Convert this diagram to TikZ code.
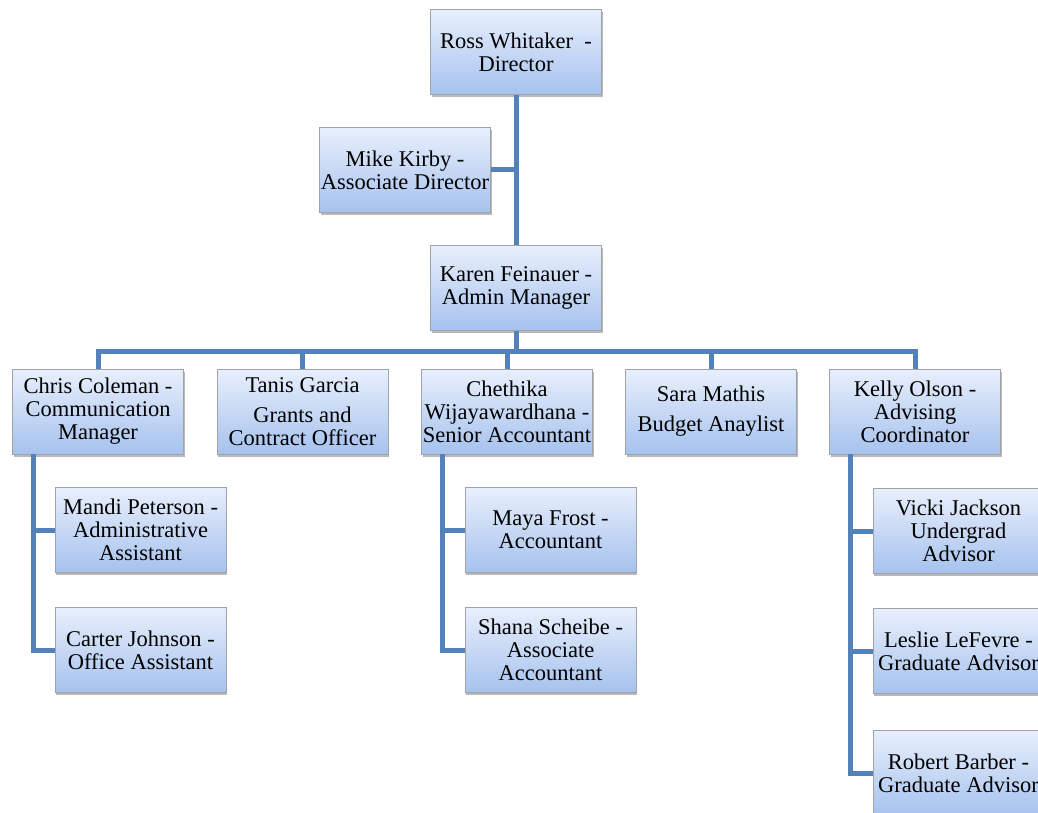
\documentclass[tikz,border=0pt]{standalone}
\usepackage{fontspec}
\setmainfont{Liberation Serif}
\usepackage{tikz}
\usetikzlibrary{shadows}
\definecolor{linkblue}{HTML}{5282B8}
\definecolor{boxtop}{HTML}{E8EFFC}
\definecolor{boxbot}{HTML}{A6C2EE}
\definecolor{boxline}{HTML}{9FA3A8}
\begin{document}
\begin{tikzpicture}[x=1pt,y=-1pt,
    person/.style={draw=boxline,line width=0.8pt,top color=boxtop,bottom color=boxbot,
      minimum width=171pt,minimum height=85pt,inner sep=0pt,align=center,
      font=\fontsize{22.5}{23}\selectfont,
      drop shadow={shadow xshift=1pt,shadow yshift=-2.5pt,fill=black!50,opacity=.55}},
    link/.style={draw=linkblue,line width=5pt}]
    \useasboundingbox (0,0) rectangle (1038,813);
    \clip (0,0) rectangle (1038,813);
    \node[person] (ross) at (516,52) {Ross Whitaker\ \ -\\Director};
    \node[person] (kirby) at (405,170) {Mike Kirby -\\Associate Director};
    \node[person] (karen) at (516,288) {Karen Feinauer -\\Admin Manager};
    \node[person] (chris) at (98,411.5) {Chris Coleman -\\Communication\\Manager};
    \node[person] (tanis) at (302.5,411.5) {Tanis Garcia\\[7pt]Grants and\\Contract Officer};
    \node[person] (chethika) at (507,411.5) {Chethika\\Wijayawardhana -\\Senior Accountant};
    \node[person] (sara) at (711,411.5) {Sara Mathis\\[7pt]Budget Anaylist};
    \node[person] (kelly) at (915,411.5) {Kelly Olson -\\Advising\\Coordinator};
    \node[person] (mandi) at (140.5,530) {Mandi Peterson -\\Administrative\\Assistant};
    \node[person] (carter) at (140.5,650) {Carter Johnson -\\Office Assistant};
    \node[person] (maya) at (550.5,530) {Maya Frost -\\Accountant};
    \node[person] (shana) at (550.5,650) {Shana Scheibe -\\Associate\\Accountant};
    \node[person] (vicki) at (958.5,531) {Vicki Jackson\\Undergrad\\Advisor};
    \node[person] (leslie) at (958.5,651) {Leslie LeFevre -\\Graduate Advisor};
    \node[person] (robert) at (958.5,773) {Robert Barber -\\Graduate Advisor};
    \draw[link] (ross) -- (karen);
    \draw[link] (kirby.east) -- (kirby.east -| ross.south);
    \draw[link] (karen.south) -- ++(0,21) -| (chris.north);
    \draw[link] (karen.south) -- ++(0,21) -| (tanis.north);
    \draw[link] (karen.south) -- ++(0,21) -| (chethika.north);
    \draw[link] (karen.south) -- ++(0,21) -| (sara.north);
    \draw[link] (karen.south) -- ++(0,21) -| (kelly.north);
    \draw[link] (chris.south west) ++(21,0) |- (mandi.west);
    \draw[link] (chris.south west) ++(21,0) |- (carter.west);
    \draw[link] (chethika.south west) ++(21,0) |- (maya.west);
    \draw[link] (chethika.south west) ++(21,0) |- (shana.west);
    \draw[link] (kelly.south west) ++(21,0) |- (vicki.west);
    \draw[link] (kelly.south west) ++(21,0) |- (leslie.west);
    \draw[link] (kelly.south west) ++(21,0) |- (robert.west);
\end{tikzpicture}
\end{document}
